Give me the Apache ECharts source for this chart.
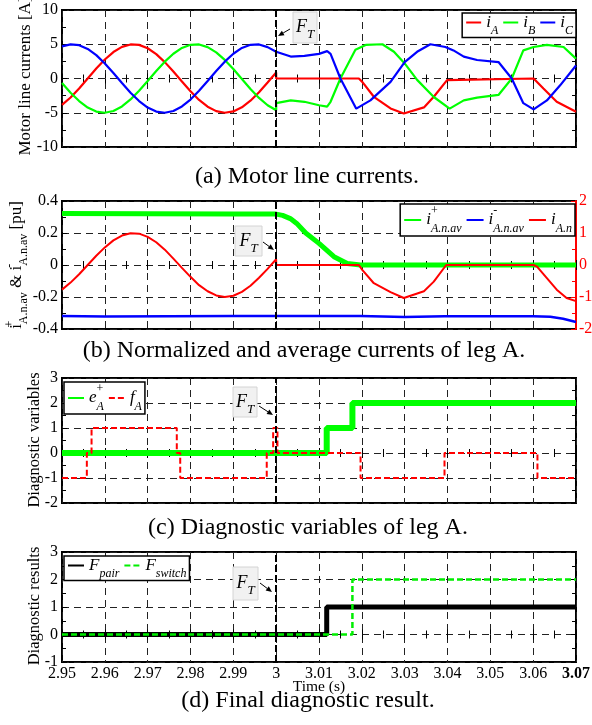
<!DOCTYPE html>
<html>
<head>
<meta charset="utf-8">
<script src="https://cdn.jsdelivr.net/npm/echarts@6/dist/echarts.min.js"></script>
<style>
  html, body { margin: 0; padding: 0; background: #fff; }
  #chart { width: 592px; height: 725px; }
</style>
</head>
<body>
<div id="chart"></div>
<script>
const FONT = '"Liberation Serif", "Times New Roman", Times, serif';

// ---------- data ----------
// time base (s) of the healthy interval before the open-switch fault
const tHealthy = [2.950, 2.952, 2.954, 2.956, 2.958, 2.960, 2.962, 2.964, 2.966, 2.968, 2.970, 2.972, 2.974,
                  2.976, 2.978, 2.980, 2.982, 2.984, 2.986, 2.988, 2.990, 2.992, 2.994, 2.996, 2.998, 3.000];

// (a) motor line currents [A]
const tIA = tHealthy.concat([3.000, 3.0193, 3.0201, 3.0228, 3.0267, 3.0298, 3.0345, 3.0368, 3.0399, 3.0403,
                             3.0601, 3.0624, 3.0655, 3.0700]);
const iA = [-3.86, -2.77, -1.45, 0.00, 1.45, 2.77, 3.86, 4.61, 4.97, 4.91, 4.42, 3.56, 2.39,
            1.02, -0.44, -1.86, -3.13, -4.12, -4.76, -5.00, -4.81, -4.20, -3.24, -2.00, -0.58, 0.88,
            0, 0, -0.49, -2.67, -4.37, -5.10, -4.22, -2.67, -0.24, 0,
            0, -1.46, -3.40, -4.85];

const tIB = tHealthy.concat([3.000, 3.0034, 3.0066, 3.0100, 3.0119, 3.0127, 3.0150, 3.0185, 3.0209, 3.0248,
                             3.0275, 3.0300, 3.0329, 3.0368, 3.0405, 3.0438, 3.0469, 3.0519, 3.0550, 3.0577,
                             3.0601, 3.0632, 3.0671, 3.0700]);
const iB = [-0.66, -2.07, -3.29, -4.24, -4.83, -5.00, -4.74, -4.08, -3.06, -1.79, -0.37, 1.09, 2.46,
            3.61, 4.46, 4.92, 4.97, 4.58, 3.81, 2.71, 1.38, -0.07, -1.52, -2.83, -3.90, -4.64,
            -3.6, -3.2, -3.4, -3.9, -4.1, -3.4, 0, 4.2, 4.9, 5.0,
            3.9, 2.2, -0.2, -2.7, -4.4, -3.2, -2.8, -2.4, 0, 4.1,
            4.6, 4.9, 4.6, 2.9];

const tIC = tHealthy.concat([3.0034, 3.0066, 3.0100, 3.0119, 3.0127, 3.0150, 3.0187, 3.0220, 3.0267, 3.0300,
                             3.0329, 3.0360, 3.0395, 3.0414, 3.0438, 3.0469, 3.0519, 3.0550, 3.0577, 3.0601,
                             3.0632, 3.0663, 3.0700]);
const iC = [4.69, 4.99, 4.86, 4.32, 3.41, 2.20, 0.81, -0.66, -2.07, -3.29, -4.24, -4.83, -5.00,
            -4.74, -4.08, -3.07, -1.79, -0.37, 1.09, 2.46, 3.61, 4.46, 4.92, 4.97, 4.58, 3.90,
            3.2, 3.3, 3.6, 4.0, 3.6, 0, -4.4, -3.2, -0.5, 2.4,
            3.9, 5.0, 4.6, 4.1, 3.2, 2.7, 2.4, 0, -3.6, -4.5,
            -3.2, -1.0, 1.9];

// (b) normalized average currents [pu] and normalized phase current
const tPosAv = [2.950, 2.970, 2.990, 3.000, 3.0015, 3.0033, 3.0048, 3.0069, 3.0100, 3.0135, 3.0166, 3.0197, 3.0700];
const iPosAv = [0.322, 0.320, 0.318, 0.318, 0.310, 0.290, 0.260, 0.200, 0.135, 0.052, 0.010, 0, 0];

const tNegAv = [2.950, 2.960, 2.975, 2.990, 3.000, 3.0197, 3.0300, 3.0393, 3.0600, 3.0640, 3.0670, 3.0700];
const iNegAv = [-0.318, -0.322, -0.320, -0.318, -0.318, -0.318, -0.325, -0.320, -0.320, -0.324, -0.336, -0.356];

const tIAn = tHealthy.concat([3.000, 3.0193, 3.0201, 3.0228, 3.0267, 3.0298, 3.0345, 3.0368, 3.0397,
                              3.0601, 3.0609, 3.0632, 3.0655, 3.0678, 3.0700]);
const iAn = [-0.77, -0.55, -0.29, 0.00, 0.29, 0.55, 0.77, 0.92, 0.99, 0.98, 0.88, 0.71, 0.48,
             0.20, -0.09, -0.37, -0.63, -0.82, -0.95, -1.00, -0.96, -0.84, -0.65, -0.40, -0.12, 0.18,
             0, 0, -0.15, -0.57, -0.85, -1.03, -0.82, -0.52, 0,
             0, -0.05, -0.41, -0.77, -1.03, -1.13];

// (c) diagnostic variables of leg A
const tEA = [2.950, 3.0118, 3.0118, 3.0178, 3.0178, 3.0700];
const eA  = [0, 0, 1, 1, 2, 2];
const tFA = [2.950, 2.9558, 2.9558, 2.9569, 2.9569, 2.9768, 2.9768, 2.9776, 2.9776, 2.9978, 2.9978,
             2.9993, 2.9993, 3.0003, 3.0003, 3.0197, 3.0197, 3.0393, 3.0393, 3.0610, 3.0610, 3.0700];
const fA  = [-1, -1, 0, 0, 1, 1, 0, 0, -1, -1, 0, 0, 1, 1, 0, 0, -1, -1, 0, 0, -1, -1];

// (d) final diagnostic result
const tFpair = [2.950, 3.0118, 3.0118, 3.0700];
const Fpair  = [0, 0, 1, 1];
const tFswitch = [2.950, 3.0178, 3.0178, 3.0700];
const Fswitch  = [0, 0, 2, 2];

// time axis and fault instant
const T_MIN = 2.95, T_MAX = 3.07, T_STEP = 0.01, T_FAULT = 3.0;

const captions = [
  '(a) Motor line currents.',
  '(b) Normalized and average currents of leg A.',
  '(c) Diagnostic variables of leg A.',
  '(d) Final diagnostic result.'
];

// ---------- helpers ----------
const zip = (t, v) => t.map((x, i) => [x, v[i]]);
const GRID_DASH = [7, 5];

const boxes = [
  { top: 10,  height: 137, yMin: -10,  yMax: 10,  yStep: 5 },
  { top: 201, height: 128, yMin: -0.4, yMax: 0.4, yStep: 0.2 },
  { top: 378, height: 125, yMin: -2,   yMax: 3,   yStep: 1 },
  { top: 552, height: 110, yMin: -1,   yMax: 3,   yStep: 1 }
];

const grid = boxes.map(b => ({
  left: 62, width: 514, top: b.top, height: b.height,
  show: true, borderColor: '#000', borderWidth: 2, backgroundColor: '#fff',
  containLabel: false, outerBoundsMode: 'none'
}));

const tickBase = color => ({
  axisTick: { show: true, inside: true, length: 5, lineStyle: { color, width: 1 } },
  minorTick: { show: true, splitNumber: 2, length: 4, lineStyle: { color, width: 1 } }
});

const xAxis = [];
const yAxis = [];
boxes.forEach((b, g) => {
  const last = g === boxes.length - 1;
  xAxis.push(Object.assign({
    type: 'value', gridIndex: g, position: 'bottom', min: T_MIN, max: T_MAX, interval: T_STEP,
    axisLine: { show: false },
    splitLine: { show: true, lineStyle: { color: '#222', width: 1, type: GRID_DASH } },
    axisLabel: {
      show: last, margin: 4, fontFamily: FONT, fontSize: 16, color: '#000',
      formatter: v => {
        const s = String(+v.toFixed(2));
        return Math.abs(v - T_MAX) < 1e-9 ? '{b|' + s + '}' : s;
      },
      rich: { b: { fontFamily: FONT, fontSize: 16, fontWeight: 'bold', color: '#000' } }
    }
  }, tickBase('#000')));
  xAxis.push(Object.assign({
    type: 'value', gridIndex: g, position: 'top', min: T_MIN, max: T_MAX, interval: T_STEP,
    axisLine: { show: false }, splitLine: { show: false }, axisLabel: { show: false }
  }, tickBase('#000')));

  yAxis.push(Object.assign({
    type: 'value', gridIndex: g, position: 'left', min: b.yMin, max: b.yMax, interval: b.yStep,
    axisLine: { show: false },
    splitLine: { show: true, lineStyle: { color: '#222', width: 1, type: GRID_DASH } },
    axisLabel: { margin: 4, fontFamily: FONT, fontSize: 16, color: '#000' }
  }, tickBase('#000')));
  if (g === 1) {
    yAxis.push(Object.assign({
      type: 'value', gridIndex: g, position: 'right', min: -2, max: 2, interval: 1,
      axisLine: { show: true, lineStyle: { color: '#ff0000', width: 2 } },
      splitLine: { show: false },
      axisLabel: { margin: 3, fontFamily: FONT, fontSize: 16, color: '#ff0000' }
    }, tickBase('#ff0000')));
  } else {
    yAxis.push(Object.assign({
      type: 'value', gridIndex: g, position: 'right', min: b.yMin, max: b.yMax, interval: b.yStep,
      axisLine: { show: false }, splitLine: { show: false }, axisLabel: { show: false }
    }, tickBase('#000')));
  }
});

const faultLine = {
  silent: true, symbol: 'none', animation: false,
  label: { show: false },
  lineStyle: { color: '#000', width: 2, type: [7, 3] },
  data: [{ xAxis: T_FAULT }]
};

function line(name, g, yRight, data, color, width, dash, extra) {
  return Object.assign({
    name, type: 'line', xAxisIndex: 2 * g, yAxisIndex: 2 * g + (yRight ? 1 : 0),
    data, showSymbol: false, symbol: 'none', animation: false, silent: true,
    lineStyle: { color, width, type: dash || 'solid' }, itemStyle: { color }
  }, extra || {});
}

const series = [
  line('iA', 0, false, zip(tIA, iA), '#ff0000', 2.2, null, { markLine: faultLine }),
  line('iB', 0, false, zip(tIB, iB), '#00ff00', 2.2),
  line('iC', 0, false, zip(tIC, iC), '#0000ff', 2.2),

  line('iAp', 1, false, zip(tPosAv, iPosAv), '#00ff00', 5, null, { markLine: faultLine }),
  line('iAm', 1, false, zip(tNegAv, iNegAv), '#0000ff', 2.5),
  line('iAn', 1, true,  zip(tIAn, iAn), '#ff0000', 2),

  line('eA', 2, false, zip(tEA, eA), '#00ff00', 6, null, { markLine: faultLine }),
  line('fA', 2, false, zip(tFA, fA), '#ff0000', 2, [6, 3]),

  line('Fpair', 3, false, zip(tFpair, Fpair), '#000000', 5, null, { markLine: faultLine }),
  line('Fswitch', 3, false, zip(tFswitch, Fswitch), '#00ee00', 2.5, [6, 3])
];

// legend names as rich text (italic symbol, superscript, subscript)
const legendText = {
  iA: '{i|i}{s|A}', iB: '{i|i}{s|B}', iC: '{i|i}{s|C}',
  iAp: '{i|i}{p|+}{s|A.n.av}', iAm: '{i|i}{p|-}{s|A.n.av}', iAn: '{i|i}{s|A.n}',
  eA: '{i|e}{p|+}{s|A}', fA: '{i|f}{s|A}',
  Fpair: '{i|F}{s|pair}', Fswitch: '{i|F}{s|switch}'
};
function legendRich(H) {
  return {
    i: { fontFamily: FONT, fontStyle: 'italic', fontSize: 17, lineHeight: H, color: '#000' },
    s: { fontFamily: FONT, fontStyle: 'italic', fontSize: 12, lineHeight: 12, verticalAlign: 'bottom', color: '#000' },
    p: { fontFamily: FONT, fontSize: 12, lineHeight: 12, verticalAlign: 'top', width: 0, color: '#000' }
  };
}
function legend(names, pos, H, iw) {
  return Object.assign({
    data: names, selectedMode: false, orient: 'horizontal',
    itemWidth: iw, itemHeight: 10, itemGap: 4,
    padding: [1, 3, 1, 3],
    borderColor: '#000', borderWidth: 1.5, backgroundColor: '#fff',
    itemStyle: { opacity: 0 },
    formatter: n => legendText[n],
    textStyle: { fontFamily: FONT, fontSize: 17, color: '#000', rich: legendRich(H) }
  }, pos);
}

// "F_T" call-outs pointing at the fault instant
function callout(box, from, to) {
  const [bx, by, bw, bh] = box;
  const ang = Math.atan2(to[1] - from[1], to[0] - from[0]);
  const L = 6, W = 2.6;
  const baseX = to[0] - L * Math.cos(ang), baseY = to[1] - L * Math.sin(ang);
  const px = -Math.sin(ang) * W, py = Math.cos(ang) * W;
  return [
    { type: 'rect', shape: { x: bx, y: by, width: bw, height: bh },
      style: { fill: '#f1f1f1', stroke: '#d4d4d4', lineWidth: 1 }, z: 100 },
    { type: 'text', x: bx + bw / 2, y: by + bh / 2, z: 101,
      style: { text: '{f|F}{t|T}', align: 'center', verticalAlign: 'middle',
        rich: {
          f: { fontFamily: FONT, fontStyle: 'italic', fontSize: 18, lineHeight: 28, fill: '#000' },
          t: { fontFamily: FONT, fontStyle: 'italic', fontSize: 13, lineHeight: 12, verticalAlign: 'bottom', fill: '#000' }
        } } },
    { type: 'line', shape: { x1: from[0], y1: from[1], x2: baseX, y2: baseY },
      style: { stroke: '#000', lineWidth: 1 }, z: 101 },
    { type: 'polygon', shape: { points: [to, [baseX + px, baseY + py], [baseX - px, baseY - py]] },
      style: { fill: '#000' }, z: 101 }
  ];
}

function vText(text, x, y, size, rich) {
  return { type: 'text', x, y, rotation: Math.PI / 2, z: 100,
    style: { text, fontFamily: FONT, fontSize: size, fill: '#000', align: 'center', verticalAlign: 'middle', rich } };
}
function hText(text, x, y, size) {
  return { type: 'text', x, y, z: 100,
    style: { text, fontFamily: FONT, fontSize: size, fill: '#000', align: 'center', verticalAlign: 'middle' } };
}

const graphic = [].concat(
  callout([293, 12, 24, 31], [290, 29], [278, 36]),
  callout([235, 226, 27, 30], [263, 242], [274, 250]),
  callout([233, 387, 24, 30], [259, 406], [273, 415]),
  callout([233, 567, 25, 33], [260, 583], [272, 592]),
  [
    vText('Motor line currents [A]', 26, 76, 17),
    vText('{n|i}{p|+}{s|A.n.av}{n| & i}{p|-}{s|A.n.av}{n| [pu]}', 17, 265, 17, {
      n: { fontFamily: FONT, fontSize: 17, lineHeight: 26, fill: '#000' },
      p: { fontFamily: FONT, fontSize: 12, lineHeight: 12, verticalAlign: 'top', width: 0, fill: '#000' },
      s: { fontFamily: FONT, fontSize: 12, lineHeight: 12, verticalAlign: 'bottom', fill: '#000' }
    }),
    vText('Diagnostic variables', 35, 440, 16.5),
    vText('Diagnostic results', 35, 606, 16.5),
    hText('Time (s)', 319, 687, 15.5),
    hText(captions[0], 307, 177, 24),
    hText(captions[1], 304, 351, 24),
    hText(captions[2], 308, 528, 24),
    hText(captions[3], 308, 701, 24)
  ]
);

const option = {
  backgroundColor: '#fff',
  animation: false,
  grid, xAxis, yAxis, series, graphic,
  legend: [
    legend(['iA', 'iB', 'iC'], { right: 16, top: 13 }, 28, 15),
    legend(['iAp', 'iAm', 'iAn'], { right: 17, top: 204 }, 30, 17),
    legend(['eA', 'fA'], { left: 64, top: 382 }, 30, 16),
    legend(['Fpair', 'Fswitch'], { left: 64, top: 556 }, 28, 16)
  ]
};

const chart = echarts.init(document.getElementById('chart'), null, { renderer: 'canvas' });
chart.setOption(option);
</script>
</body>
</html>
